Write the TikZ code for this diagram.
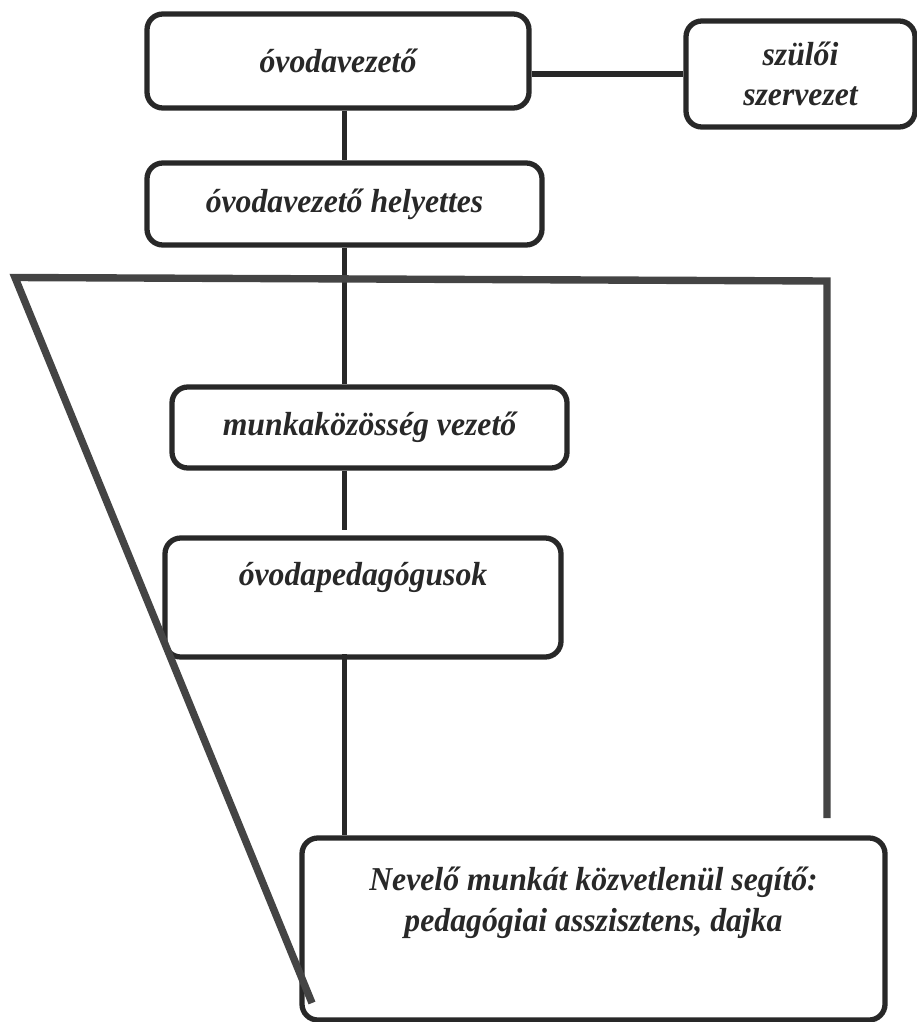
\documentclass[tikz,border=0pt]{standalone}
\usepackage{fontspec}
\setmainfont{Liberation Serif}[FakeStretch=0.95]
\usepackage{tikz}
\usetikzlibrary{positioning}
\definecolor{boxgrey}{RGB}{40,40,40}
\definecolor{framegrey}{RGB}{68,68,68}

\begin{document}
\begin{tikzpicture}[
    unit/.style={rectangle, rounded corners=9pt, draw=boxgrey, line width=3pt, align=center,
                 font=\fontsize{19}{23}\selectfont\bfseries\itshape, text=boxgrey, inner sep=0pt},
    link/.style={draw=boxgrey, line width=3.2pt},
    frame/.style={draw=framegrey, line width=4.2pt, line join=miter}
]
    \useasboundingbox (0,0) rectangle (18.34,-20.44);

    \node[unit, minimum width=7.64cm, minimum height=1.88cm] (vezeto) at (6.76,-1.22) {óvodavezető};
    \node[unit, minimum width=4.58cm, minimum height=2.12cm] (szuloi) at (16.01,-1.48) {szülői\\szervezet};
    \node[unit, minimum width=7.9cm, minimum height=1.64cm] (helyettes) at (6.89,-4.08) {óvodavezető helyettes};
    \node[unit, minimum width=7.9cm, minimum height=1.62cm] (munka) at (7.39,-8.55) {munkaközösség vezető};
    \node[unit, minimum width=7.92cm, minimum height=2.38cm, text height=0.5cm, text depth=1.0cm]
        (pedagogus) at (7.26,-11.95) {óvodapedagógusok};
    \node[unit, minimum width=11.66cm, minimum height=3.64cm, text height=1.2cm, text depth=1.12cm]
        (segito) at (11.87,-18.58) {Nevelő munkát közvetlenül segítő:\\pedagógiai asszisztens, dajka};

    % vezetesi vonal
    \draw[link] (vezeto.east |- szuloi.west) -- (szuloi.west);
    \draw[link] (helyettes.north |- vezeto.south) -- (helyettes.north);
    \draw[link] (helyettes.south) -- (helyettes.south |- munka.north);
    \draw[link] (helyettes.south |- munka.south) -- ([yshift=3pt]helyettes.south |- pedagogus.north);
    \draw[link] ([yshift=3pt]helyettes.south |- pedagogus.south) -- (helyettes.south |- segito.north);

    % keret
    \coordinate (felso bal) at (0.3,-5.55);
    \coordinate (felso jobb) at (16.54,-5.62);
    \coordinate (jobb veg) at (16.54,-16.36);
    \coordinate (lab) at (6.24,-20.06);
    \draw[frame] (lab) -- (felso bal) -- (felso jobb) -- (jobb veg);
\end{tikzpicture}
\end{document}
